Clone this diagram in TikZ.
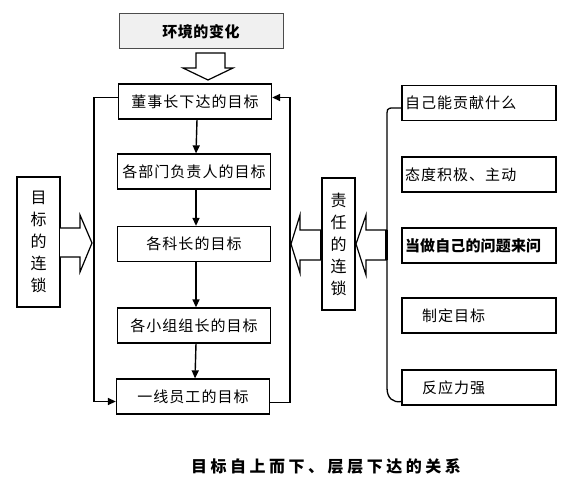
\documentclass[tikz,border=0pt]{standalone}
\usepackage{fontspec}
\setmainfont{Noto Sans CJK SC}
\usetikzlibrary{arrows.meta,calc}
\newcommand{\bx}{\fontsize{15}{17}\selectfont\addfontfeature{LetterSpace=7}}
\newcommand{\vt}{\fontsize{16}{22}\selectfont}
\tikzset{
  box/.style={draw,line width=1.3pt,minimum width=153pt,minimum height=35pt,inner sep=0pt,font=\bx},
  rbox/.style={draw,line width=1.3pt,minimum width=154pt,minimum height=35pt,text width=148pt,align=left,inner xsep=3pt,inner ysep=0pt,font=\bx},
  vbox/.style={draw,line width=1.3pt,inner sep=0pt,align=center,font=\vt},
  conn/.style={line width=1.4pt,-{Triangle[length=8pt,width=7pt]}},
  hollow/.style={draw,line width=1.2pt,fill=white,line join=miter},
}
\begin{document}
\begin{tikzpicture}[x=1pt,y=-1pt]
\useasboundingbox (0,0) rectangle (575,497);
% top box
\node[draw=black!70,line width=1pt,fill=gray!12,minimum width=164pt,minimum height=35pt,inner sep=0pt,font=\fontsize{15}{17}\selectfont\bfseries\addfontfeature{LetterSpace=4}] (top) at (201,31.5) {环境的变化};
% hollow down arrow
\draw[hollow] (196,53) -- (196,68) -- (183,68) -- (208,80) -- (233,68) -- (225,68) -- (225,53) -- cycle;
% chain boxes
\node[box] (b1) at (195,101.5) {董事长下达的目标};
\node[box] (b2) at (194,171.5) {各部门负责人的目标};
\node[box] (b3) at (194,244) {各科长的目标};
\node[box] (b4) at (194,325.5) {各小组组长的目标};
\node[box] (b5) at (193,396.5) {一线员工的目标};
\foreach \a/\b in {b1/b2,b2/b3,b3/b4,b4/b5}
  \draw[conn] ([xshift=2pt]\a.south) -- ([xshift=2pt]\b.north);
% loops
\draw[conn] ([yshift=4pt]b1.west) -- ++(-24,0) |- ([yshift=-5pt]b5.west);
\draw[conn] ([yshift=-6pt]b5.east) -- ++(20,0) |- ([yshift=4pt]b1.east);
% left side
\node[vbox,minimum width=43pt,minimum height=130pt] (L) at (38.5,242) {目\\标\\的\\连\\锁};
\draw[hollow] (60,228) -- (80,228) -- (80,215) -- (92,243) -- (80,272) -- (80,257) -- (60,257);
% middle box
\node[vbox,minimum width=33pt,minimum height=132pt] (M) at (338.5,244) {责\\任\\的\\连\\锁};
\draw[hollow] (322,230) -- (300,230) -- (300,215) -- (291,244) -- (300,273) -- (300,260) -- (322,260);
\draw[line width=3pt] (M.west |- 0,230) -- (M.west |- 0,260);
% right boxes
\node[rbox] (A) at (479,103) {自己能贡献什么};
\node[rbox] (B) at (479,174.5) {态度积极、主动};
\node[rbox,font=\bx\bfseries] (C) at (479,245.5) {\addfontfeature{LetterSpace=1}当做自己的问题来问};
\node[rbox] (D) at (479,315.5) {\hspace*{17pt}制定目标};
\node[rbox] (E) at (479,387.5) {\hspace*{17pt}反应力强};
% brace
\draw[line width=1.3pt] ([yshift=-5pt]A.west) .. controls +(-12,0) and +(0,-6) .. (387,113) -- (387,388) .. controls (387,398) and (393,403) .. ([yshift=-14pt]E.west);
\draw[hollow] (387,230) -- (366,230) -- (366,215) -- (356,244) -- (366,275) -- (366,260) -- (387,260);
\draw[line width=3pt] (386,230) -- (386,260);
% caption
\node[font=\fontsize{16}{18}\selectfont\bfseries\addfontfeature{LetterSpace=22}] (cap) at (326,466) {目标自上而下、层层下达的关系};
\end{tikzpicture}
\end{document}
